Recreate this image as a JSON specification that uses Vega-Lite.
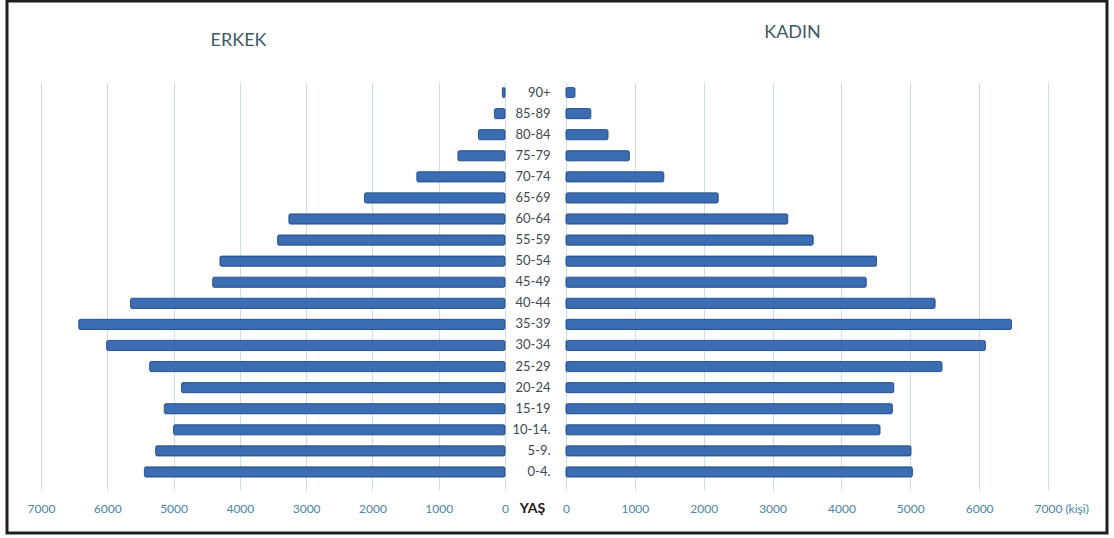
{
  "$schema": "https://vega.github.io/schema/vega-lite/v6.json",
  "width": 1114,
  "height": 538,
  "autosize": {"type": "fit", "contains": "padding"},
  "padding": {"left": 7, "top": 1, "right": 7, "bottom": 5},
  "background": "white",
  "config": {"view": {"stroke": "#1e1e1e", "strokeWidth": 3}, "font": "Lato"},
  "data": {
    "values": [
      {"age": "90+", "erkek": 40, "kadin": 130},
      {"age": "85-89", "erkek": 160, "kadin": 360},
      {"age": "80-84", "erkek": 400, "kadin": 610},
      {"age": "75-79", "erkek": 710, "kadin": 920},
      {"age": "70-74", "erkek": 1330, "kadin": 1420},
      {"age": "65-69", "erkek": 2120, "kadin": 2210},
      {"age": "60-64", "erkek": 3260, "kadin": 3220},
      {"age": "55-59", "erkek": 3430, "kadin": 3590},
      {"age": "50-54", "erkek": 4300, "kadin": 4510},
      {"age": "45-49", "erkek": 4410, "kadin": 4360},
      {"age": "40-44", "erkek": 5650, "kadin": 5360},
      {"age": "35-39", "erkek": 6430, "kadin": 6470},
      {"age": "30-34", "erkek": 6010, "kadin": 6090},
      {"age": "25-29", "erkek": 5360, "kadin": 5460},
      {"age": "20-24", "erkek": 4880, "kadin": 4760},
      {"age": "15-19", "erkek": 5140, "kadin": 4740},
      {"age": "10-14.", "erkek": 5000, "kadin": 4560},
      {"age": "5-9.", "erkek": 5270, "kadin": 5010},
      {"age": "0-4.", "erkek": 5440, "kadin": 5030}
    ]
  },
  "encoding": {
    "y": {
      "field": "age",
      "type": "nominal",
      "sort": null,
      "scale": {"range": [81, 489], "paddingInner": 0.52, "paddingOuter": 0.4375, "align": 0.296},
      "axis": {
        "orient": "left",
        "offset": -545,
        "domain": false,
        "ticks": false,
        "grid": false,
        "labelPadding": 2,
        "labelFont": "Lato",
        "labelFontSize": 13,
        "labelColor": "#3c4a53",
        "title": "YAŞ",
        "titleAngle": 0,
        "titleX": -20,
        "titleY": 507,
        "titleAlign": "center",
        "titleBaseline": "middle",
        "titleFont": "Lato",
        "titleFontSize": 14,
        "titleFontWeight": "bold",
        "titleColor": "#1a1a1a"
      }
    }
  },
  "layer": [
    {
      "mark": {"type": "bar", "color": "#3b6db3", "stroke": "#2a5592", "strokeWidth": 1, "cornerRadius": 1.5},
      "encoding": {
        "x": {
          "field": "erkek",
          "type": "quantitative",
          "scale": {"domain": [0, 7000], "range": [498, 34], "nice": false},
          "axis": {
            "orient": "top",
            "offset": 0,
            "values": [0, 1000, 2000, 3000, 4000, 5000, 6000, 7000],
            "format": "d",
            "domain": false,
            "ticks": false,
            "labelPadding": -507,
            "labelBaseline": "middle",
            "labelFont": "Lato",
            "labelFontSize": 12,
            "labelColor": "#4a86a6",
            "labelFlush": false,
            "labelOverlap": false,
            "grid": true,
            "gridColor": "#cddceb",
            "gridWidth": 1,
            "title": "ERKEK",
            "titleX": 231,
            "titleY": 39,
            "titleAlign": "center",
            "titleBaseline": "middle",
            "titleFont": "Lato",
            "titleFontSize": 18,
            "titleFontWeight": "normal",
            "titleColor": "#3f5a68"
          }
        }
      }
    },
    {
      "mark": {"type": "bar", "color": "#3b6db3", "stroke": "#2a5592", "strokeWidth": 1, "cornerRadius": 1.5},
      "encoding": {
        "x": {
          "field": "kadin",
          "type": "quantitative",
          "scale": {"domain": [0, 7000], "range": [559, 1041], "nice": false},
          "axis": {
            "orient": "top",
            "offset": 0,
            "values": [0, 1000, 2000, 3000, 4000, 5000, 6000, 7000],
            "format": "d",
            "labelExpr": "datum.value == 7000 ? '7000 (kişi)' : datum.label",
            "labelAlign": {"condition": {"test": "datum.value == 7000", "value": "left"}, "value": "center"},
            "labelOffset": {"condition": {"test": "datum.value == 7000", "value": -14}, "value": 0},
            "domain": false,
            "ticks": false,
            "labelPadding": -507,
            "labelBaseline": "middle",
            "labelFont": "Lato",
            "labelFontSize": 12,
            "labelColor": "#4a86a6",
            "labelFlush": false,
            "labelOverlap": false,
            "grid": true,
            "gridColor": "#cddceb",
            "gridWidth": 1,
            "title": "KADIN",
            "titleX": 785,
            "titleY": 31,
            "titleAlign": "center",
            "titleBaseline": "middle",
            "titleFont": "Lato",
            "titleFontSize": 18,
            "titleFontWeight": "normal",
            "titleColor": "#3f5a68"
          }
        }
      }
    }
  ],
  "resolve": {"scale": {"x": "independent"}, "axis": {"x": "independent"}}
}
